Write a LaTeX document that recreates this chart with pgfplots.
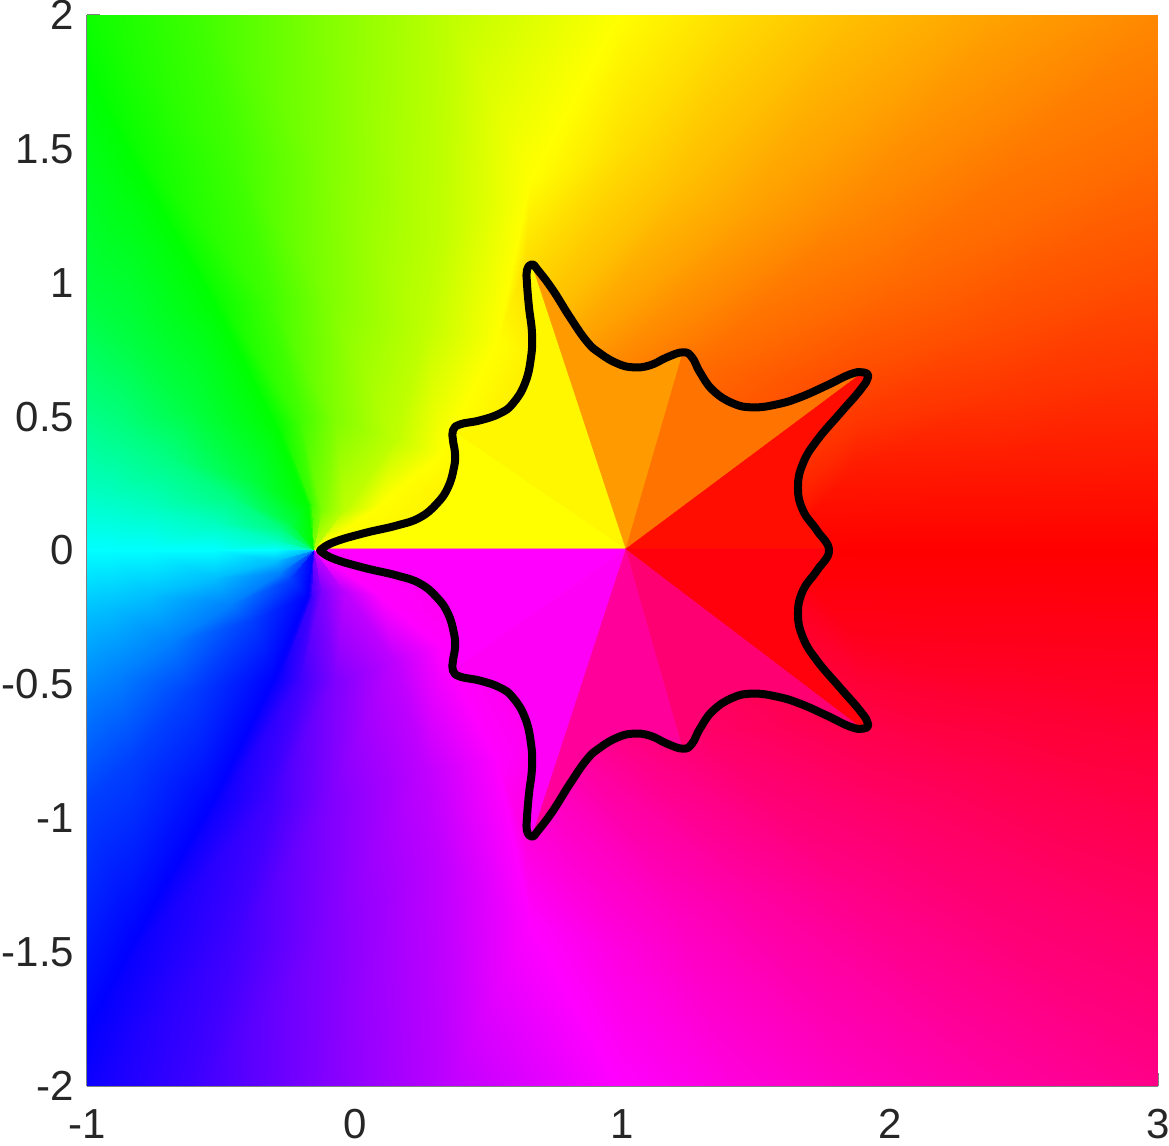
\documentclass[border=0pt]{standalone}
\usepackage{fontspec}
\setmainfont{Liberation Sans}
\usepackage{pgfplots}
\pgfplotsset{compat=1.18}
\definecolor{axgray}{RGB}{128,128,128}
\definecolor{txt}{RGB}{38,38,38}
\definecolor{yA}{RGB}{255,255,0}
\definecolor{yB}{RGB}{255,247,0}
\definecolor{oA}{RGB}{255,155,0}
\definecolor{oB}{RGB}{255,115,0}
\definecolor{rA}{RGB}{255,13,0}
\definecolor{mA}{RGB}{255,0,255}
\definecolor{mB}{RGB}{255,0,247}
\definecolor{pA}{RGB}{255,0,155}
\definecolor{pB}{RGB}{255,0,115}
\definecolor{rB}{RGB}{255,0,13}
\begin{document}
\begin{tikzpicture}
\path[use as bounding box] (-43.5pt,-30pt) rectangle (541pt,543pt);
\begin{axis}[
  anchor=south west, at={(0pt,0pt)},
  scale only axis, width=535.5pt, height=535.5pt,
  xmin=-1, xmax=3, ymin=-2, ymax=2,
  axis x line*=bottom, axis y line*=left,
  axis line style={draw=axgray, line width=1pt, -},
  tick style={draw=axgray, line width=0.6pt},
  tick align=inside, major tick length=6.5pt,
  xtick={-1,0,1,2,3}, xticklabels={-1,0,1,2,3},
  ytick={-2,-1.5,-1,-0.5,0,0.5,1,1.5,2},
  yticklabels={-2,-1.5,-1,-0.5,0,0.5,1,1.5,2},
  tick label style={font=\fontsize{21}{25}\selectfont, text=txt, inner sep=0pt},
  x tick label style={yshift=-11.6pt},
  y tick label style={xshift=-6.2pt},
  colormap={phase}{rgb255=(255,0,0) rgb255=(255,255,0) rgb255=(0,255,0) rgb255=(0,255,255) rgb255=(0,0,255) rgb255=(255,0,255) rgb255=(255,0,0)},
  point meta min=0, point meta max=360,
  clip=true,
]
% upper half of the phase field: rows of equal hue
\addplot[surf, shader=interp, mesh/rows=19, mesh/cols=6, point meta=explicit] table[x=x,y=y,meta=h] {
x y h
-.1522 0 180
-.2979 0 180
-.5257 0 180
-.7647 0 180
-.9141 0 180
-1 0 180
-.1522 0 165
-.2979 .0374 165
-.5257 .1009 165
-.7647 .1645 165
-.9141 .2056 165
-1 .2280 165
-.1522 0 150
-.2792 .0822 150
-.4659 .2019 150
-.6900 .3439 150
-.8767 .4636 150
-1 .5421 150
-.1522 0 135
-.2418 .1047 135
-.3912 .2617 135
-.6153 .5234 135
-.8394 .7850 135
-1 .9346 135
-.1522 0 120
-.1783 .1682 120
-.2979 .4673 120
-.5294 .9346 120
-.8282 1.4579 120
-1 1.7944 120
-.1522 0 117
-.1709 .1682 117
-.2792 .4673 117
-.5033 .9346 117
-.7834 1.4579 117
-1 2 117
-.1522 0 105
-.1597 .1682 105
-.2045 .4860 105
-.3165 .9346 105
-.4473 1.4579 105
-.5780 2 105
-.1522 0 90
-.1223 .1495 90
-.0738 .4860 90
-.0924 .9346 90
-.1111 1.4579 90
-.1298 2 90
-.1522 0 75
-.0364 .1495 75
.1503 .4112 75
.2624 .8224 75
.3184 1.1589 75
.3557 2 75
-.1522 0 60
.0943 .1682 60
.3184 .3551 60
.5313 .7850 60
.6545 1.3832 60
.9906 2 60
.7666 .1869 52
.8039 .3738 52
.8226 .6355 52
.6358 1.0654 52
1.0093 1.4953 52
1.4090 2 52
.8786 .1869 45
.8786 .4486 45
.8226 .7850 45
.7629 .9159 45
1.2147 1.3682 45
1.8459 2 45
.9533 .1121 38
.9533 .2991 38
.9160 .5607 38
.8562 .7888 38
1.4762 1.2710 38
2.4099 2 38
.9720 .0748 32
.9720 .2243 32
.9720 .4486 32
.9906 .7103 32
1.8497 1.2710 32
3 2 32
1.0653 .0748 25
1.0653 .2617 25
1.1774 .4860 25
1.2894 .6729 25
2.0364 1.0206 25
3 1.4692 25
1.1401 .0748 18
1.2894 .1869 18
1.5135 .4112 18
1.7937 .6318 18
2.3351 .8075 18
3 1.0243 18
1.1401 .0374 12
1.3641 .1121 12
1.5882 .2991 12
1.8870 .4673 12
2.4099 .5682 12
3 .6692 12
1.1401 .0187 6
1.3641 .0561 6
1.5882 .1121 6
1.8497 .2991 6
2.4099 .3178 6
3 .3327 6
1 0 0
1.3641 0 0
1.5882 0 0
1.8497 0 0
2.4099 0 0
3 0 0
};
% lower half
\addplot[surf, shader=interp, mesh/rows=19, mesh/cols=6, point meta=explicit] table[x=x,y=y,meta=h] {
x y h
-.1522 0 180
-.2979 0 180
-.5257 0 180
-.7647 0 180
-.9141 0 180
-1 0 180
-.1522 0 195
-.2979 -.0374 195
-.5257 -.1009 195
-.7647 -.1645 195
-.9141 -.2056 195
-1 -.2280 195
-.1522 0 210
-.2792 -.0822 210
-.4659 -.2019 210
-.6900 -.3439 210
-.8767 -.4636 210
-1 -.5421 210
-.1522 0 225
-.2418 -.1047 225
-.3912 -.2617 225
-.6153 -.5234 225
-.8394 -.7850 225
-1 -.9346 225
-.1522 0 240
-.1783 -.1682 240
-.2979 -.4673 240
-.5294 -.9346 240
-.8282 -1.4579 240
-1 -1.7944 240
-.1522 0 243
-.1709 -.1682 243
-.2792 -.4673 243
-.5033 -.9346 243
-.7834 -1.4579 243
-1 -2 243
-.1522 0 255
-.1597 -.1682 255
-.2045 -.4860 255
-.3165 -.9346 255
-.4473 -1.4579 255
-.5780 -2 255
-.1522 0 270
-.1223 -.1495 270
-.0738 -.4860 270
-.0924 -.9346 270
-.1111 -1.4579 270
-.1298 -2 270
-.1522 0 285
-.0364 -.1495 285
.1503 -.4112 285
.2624 -.8224 285
.3184 -1.1589 285
.3557 -2 285
-.1522 0 300
.0943 -.1682 300
.3184 -.3551 300
.5313 -.7850 300
.6545 -1.3832 300
.9906 -2 300
.7666 -.1869 308
.8039 -.3738 308
.8226 -.6355 308
.6358 -1.0654 308
1.0093 -1.4953 308
1.4090 -2 308
.8786 -.1869 315
.8786 -.4486 315
.8226 -.7850 315
.7629 -.9159 315
1.2147 -1.3682 315
1.8459 -2 315
.9533 -.1121 322
.9533 -.2991 322
.9160 -.5607 322
.8562 -.7888 322
1.4762 -1.2710 322
2.4099 -2 322
.9720 -.0748 328
.9720 -.2243 328
.9720 -.4486 328
.9906 -.7103 328
1.8497 -1.2710 328
3 -2 328
1.0653 -.0748 335
1.0653 -.2617 335
1.1774 -.4860 335
1.2894 -.6729 335
2.0364 -1.0206 335
3 -1.4692 335
1.1401 -.0748 342
1.2894 -.1869 342
1.5135 -.4112 342
1.7937 -.6318 342
2.3351 -.8075 342
3 -1.0243 342
1.1401 -.0374 348
1.3641 -.1121 348
1.5882 -.2991 348
1.8870 -.4673 348
2.4099 -.5682 348
3 -.6692 348
1.1401 -.0187 354
1.3641 -.0561 354
1.5882 -.1121 354
1.8497 -.2991 354
2.4099 -.3178 354
3 -.3327 354
1 0 360
1.3641 0 360
1.5882 0 360
1.8497 0 360
2.4099 0 360
3 0 360
};
% flat sectors inside the curve, upper half
\addplot[fill=yA, draw=yA, line width=0.2pt] coordinates {(1.013,.006) (-.13,.006) (-.0812,.0299) (.0308,.0636) (.1578,.0935) (.2437,.1234) (.3072,.1757) (.3483,.2355) (.3707,.3103) (.3744,.3626) (.3669,.4112) (.3669,.4486)} --cycle;
\addplot[fill=yB, draw=yB, line width=0.2pt] coordinates {(1.013,.006) (.3669,.4486) (.3931,.4710) (.4678,.4860) (.5425,.5121) (.5910,.5495) (.6358,.6243) (.6583,.7215) (.6620,.8112) (.6508,.9084) (.6433,.9981) (.6433,1.0467) (.6620,1.0692)} --cycle;
\addplot[fill=oA, draw=oA, line width=0.2pt] coordinates {(1.013,.006) (.6620,1.0692) (.6844,1.0467) (.7404,.9720) (.8039,.8710) (.8674,.7800) (.9160,.7364) (.9794,.6991) (1.0392,.6841) (1.1027,.6916) (1.1662,.7215) (1.2259,.7402)} --cycle;
\addplot[fill=oB, draw=oB, line width=0.2pt] coordinates {(1.013,.006) (1.2259,.7402) (1.2596,.7215) (1.2894,.6654) (1.3380,.5981) (1.4127,.5495) (1.4874,.5346) (1.5770,.5458) (1.6629,.5720) (1.7638,.6168) (1.8497,.6579) (1.8982,.6654)} --cycle;
\addplot[fill=rA, draw=rA, line width=0.2pt] coordinates {(1.013,.006) (1.8982,.6654) (1.9169,.6467) (1.8870,.5981) (1.8123,.5121) (1.7264,.4112) (1.6741,.3252) (1.6554,.2355) (1.6741,.1495) (1.7264,.0748) (1.7712,.006)} --cycle;
% flat sectors inside the curve, lower half
\addplot[fill=mA, draw=mA, line width=0.2pt] coordinates {(1.013,.006) (-.13,.006) (-.0812,-.0299) (.0308,-.0636) (.1578,-.0935) (.2437,-.1234) (.3072,-.1757) (.3483,-.2355) (.3707,-.3103) (.3744,-.3626) (.3669,-.4112) (.3669,-.4486)} --cycle;
\addplot[fill=mB, draw=mB, line width=0.2pt] coordinates {(1.013,.006) (.3669,-.4486) (.3931,-.4710) (.4678,-.4860) (.5425,-.5121) (.5910,-.5495) (.6358,-.6243) (.6583,-.7215) (.6620,-.8112) (.6508,-.9084) (.6433,-.9981) (.6433,-1.0467) (.6620,-1.0692)} --cycle;
\addplot[fill=pA, draw=pA, line width=0.2pt] coordinates {(1.013,.006) (.6620,-1.0692) (.6844,-1.0467) (.7404,-.9720) (.8039,-.8710) (.8674,-.7800) (.9160,-.7364) (.9794,-.6991) (1.0392,-.6841) (1.1027,-.6916) (1.1662,-.7215) (1.2259,-.7402)} --cycle;
\addplot[fill=pB, draw=pB, line width=0.2pt] coordinates {(1.013,.006) (1.2259,-.7402) (1.2596,-.7215) (1.2894,-.6654) (1.3380,-.5981) (1.4127,-.5495) (1.4874,-.5346) (1.5770,-.5458) (1.6629,-.5720) (1.7638,-.6168) (1.8497,-.6579) (1.8982,-.6654)} --cycle;
\addplot[fill=rB, draw=rB, line width=0.2pt] coordinates {(1.013,.006) (1.8982,-.6654) (1.9169,-.6467) (1.8870,-.5981) (1.8123,-.5121) (1.7264,-.4112) (1.6741,-.3252) (1.6554,-.2355) (1.6741,-.1495) (1.7264,-.0748) (1.7712,.006)} --cycle;
% the curve
\addplot[black, line width=4pt, smooth, tension=0.75, line join=round] coordinates {
(-.13,0) (-.0812,.0299) (.0308,.0636) (.1578,.0935) (.2437,.1234) (.3072,.1757) (.3483,.2355) (.3707,.3103) (.3744,.3626) (.3669,.4112) (.3669,.4486) (.3931,.4710) (.4678,.4860) (.5425,.5121) (.5910,.5495) (.6358,.6243) (.6583,.7215) (.6620,.8112) (.6508,.9084) (.6433,.9981) (.6433,1.0467) (.6620,1.0692) (.6844,1.0467) (.7404,.9720) (.8039,.8710) (.8674,.7800) (.9160,.7364) (.9794,.6991) (1.0392,.6841) (1.1027,.6916) (1.1662,.7215) (1.2259,.7402) (1.2596,.7215) (1.2894,.6654) (1.3380,.5981) (1.4127,.5495) (1.4874,.5346) (1.5770,.5458) (1.6629,.5720) (1.7638,.6168) (1.8497,.6579) (1.8982,.6654) (1.9169,.6467) (1.8870,.5981) (1.8123,.5121) (1.7264,.4112) (1.6741,.3252) (1.6554,.2355) (1.6741,.1495) (1.7264,.0748) (1.7712,0)
(1.7264,-.0748) (1.6741,-.1495) (1.6554,-.2355) (1.6741,-.3252) (1.7264,-.4112) (1.8123,-.5121) (1.8870,-.5981) (1.9169,-.6467) (1.8982,-.6654) (1.8497,-.6579) (1.7638,-.6168) (1.6629,-.5720) (1.5770,-.5458) (1.4874,-.5346) (1.4127,-.5495) (1.3380,-.5981) (1.2894,-.6654) (1.2596,-.7215) (1.2259,-.7402) (1.1662,-.7215) (1.1027,-.6916) (1.0392,-.6841) (.9794,-.6991) (.9160,-.7364) (.8674,-.7800) (.8039,-.8710) (.7404,-.9720) (.6844,-1.0467) (.6620,-1.0692) (.6433,-1.0467) (.6433,-.9981) (.6508,-.9084) (.6620,-.8112) (.6583,-.7215) (.6358,-.6243) (.5910,-.5495) (.5425,-.5121) (.4678,-.4860) (.3931,-.4710) (.3669,-.4486) (.3669,-.4112) (.3744,-.3626) (.3707,-.3103) (.3483,-.2355) (.3072,-.1757) (.2437,-.1234) (.1578,-.0935) (.0308,-.0636) (-.0812,-.0299) (-.13,0)
} --cycle;
\end{axis}
\end{tikzpicture}
\end{document}
